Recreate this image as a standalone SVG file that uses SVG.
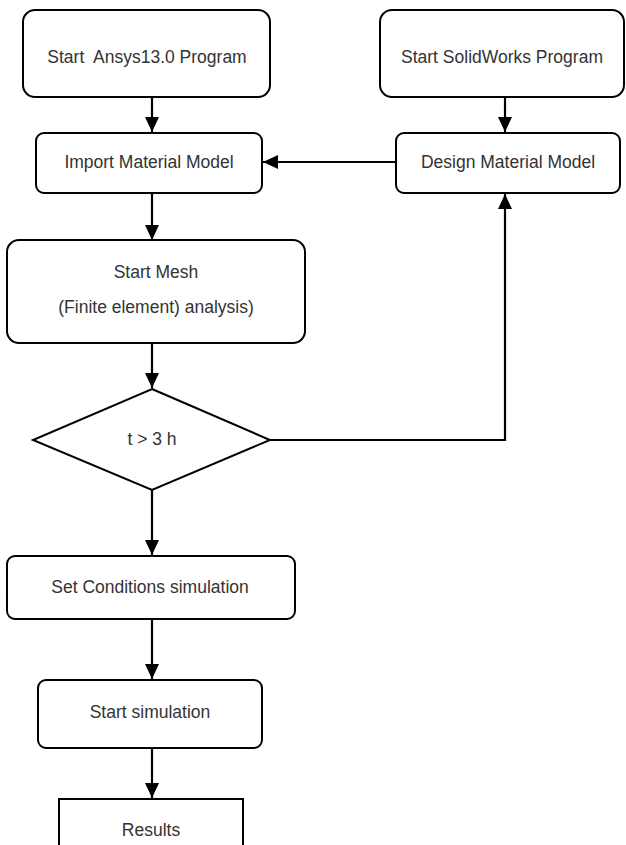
<svg xmlns="http://www.w3.org/2000/svg" width="626" height="845" viewBox="0 0 626 845">
<defs>
<style>
.box{fill:#fff;stroke:#000;stroke-width:2}
.lbl{font-family:"Liberation Sans",Arial,sans-serif;font-size:17.5px;fill:#333;text-anchor:middle}
.con{fill:none;stroke:#000;stroke-width:2.2}
</style>
<marker id="ah" viewBox="0 0 15 14" refX="15" refY="7" markerWidth="15" markerHeight="14" markerUnits="userSpaceOnUse" orient="auto">
<path d="M0,0 L15,7 L0,14 Z" fill="#000"/>
</marker>
</defs>
<rect width="626" height="845" fill="#fff"/>
<g id="connectors">
<line class="con" x1="152" y1="97" x2="152" y2="132" marker-end="url(#ah)"/>
<line class="con" x1="505" y1="97" x2="505" y2="132" marker-end="url(#ah)"/>
<line class="con" x1="396" y1="162" x2="263" y2="162" marker-end="url(#ah)"/>
<line class="con" x1="152" y1="193" x2="152" y2="240" marker-end="url(#ah)"/>
<line class="con" x1="152" y1="343" x2="152" y2="388" marker-end="url(#ah)"/>
<polyline class="con" points="270,440 505,440 505,194" marker-end="url(#ah)"/>
<line class="con" x1="152" y1="490" x2="152" y2="555" marker-end="url(#ah)"/>
<line class="con" x1="152" y1="619" x2="152" y2="679" marker-end="url(#ah)"/>
<line class="con" x1="152" y1="748" x2="152" y2="798" marker-end="url(#ah)"/>
</g>
<g id="n-ansys">
<rect class="box" x="23" y="10" width="247" height="87" rx="12"/>
<text class="lbl" x="147" y="63" xml:space="preserve">Start  Ansys13.0 Program</text>
</g>
<g id="n-solidworks">
<rect class="box" x="380" y="10" width="244" height="87" rx="12"/>
<text class="lbl" x="502" y="63">Start SolidWorks Program</text>
</g>
<g id="n-import">
<rect class="box" x="36" y="133" width="226" height="60" rx="8"/>
<text class="lbl" x="149" y="168">Import Material Model</text>
</g>
<g id="n-design">
<rect class="box" x="396" y="133" width="224" height="60" rx="8"/>
<text class="lbl" x="508" y="168">Design Material Model</text>
</g>
<g id="n-mesh">
<rect class="box" x="7" y="240" width="298" height="103" rx="12"/>
<text class="lbl" x="156" y="278">Start Mesh</text>
<text class="lbl" x="156" y="313">(Finite element) analysis)</text>
</g>
<g id="n-decision">
<polygon class="box" points="152,389 270,440 152,490 33,440"/>
<text class="lbl" x="152" y="445">t &gt; 3 h</text>
</g>
<g id="n-setcond">
<rect class="box" x="7" y="556" width="288" height="63" rx="8"/>
<text class="lbl" x="150" y="593">Set Conditions simulation</text>
</g>
<g id="n-startsim">
<rect class="box" x="38" y="680" width="224" height="68" rx="8"/>
<text class="lbl" x="150" y="718">Start simulation</text>
</g>
<g id="n-results">
<rect class="box" x="59" y="799" width="184" height="60"/>
<text class="lbl" x="151" y="836">Results</text>
</g>
</svg>
